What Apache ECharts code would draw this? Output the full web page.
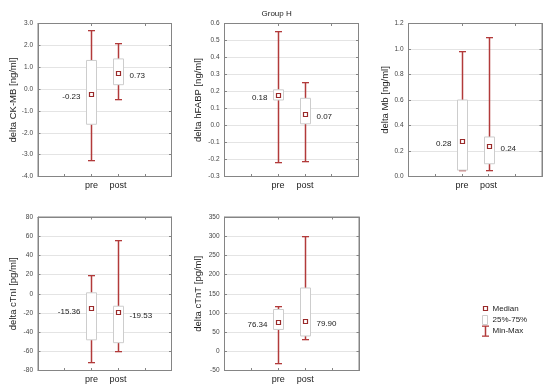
<!DOCTYPE html>
<html>
<head>
<meta charset="utf-8">
<script src="https://cdn.jsdelivr.net/npm/echarts@6/dist/echarts.min.js"></script>
<style>html,body{margin:0;padding:0;background:#fff}#c{width:550px;height:389px}</style>
</head>
<body>
<div id="c"></div>
<script>
// ---- data ----
const categories = ['pre', 'post'];
const panelNames = ['delta CK-MB [ng/ml]', 'delta hFABP [ng/ml]', 'delta Mb [ng/ml]', 'delta cTnI [pg/ml]', 'delta cTnT [pg/ml]'];
// each stat: [min, q25, median, q75, max]
const ckmbPre = [-3.29, -1.61, -0.23, 1.31, 2.67];
const ckmbPost = [-0.48, 0.20, 0.73, 1.38, 2.08];
const hfabpPre = [-0.22, 0.15, 0.18, 0.21, 0.55];
const hfabpPost = [-0.21, 0.01, 0.07, 0.16, 0.25];
const mbPre = [0.05, 0.05, 0.28, 0.60, 0.98];
const mbPost = [0.05, 0.10, 0.24, 0.31, 1.09];
const ctniPre = [-72, -48, -15.36, 1, 19];
const ctniPost = [-60, -51, -19.53, -13, 56];
const ctntPre = [-33, 57, 76.34, 109, 118];
const ctntPost = [31, 40, 79.90, 165, 300];
// y-axis ticks: [min, max, interval, decimals]
const yTicks1 = [-4, 3, 1, 1];
const yTicks2 = [-0.3, 0.6, 0.1, 1];
const yTicks3 = [0, 1.2, 0.2, 1];
const yTicks4 = [-80, 80, 20, 0];
const yTicks5 = [-50, 350, 50, 0];
const titleText = 'Group H';
const legendLabels = ['Median', '25%-75%', 'Min-Max'];

// ---- layout ----
const FONT = '"Liberation Sans", Arial, sans-serif';
const WHISK = '#b23a3a';
const MED = '#9a2a2a';
const BOXC = '#cdcdcd';
const FRAME = '#858585';
const panels = [
  {pre: ckmbPre, post: ckmbPost, y: yTicks1, grid: {left: 38, top: 23.5, width: 133.5, height: 153}, gap: 20},
  {pre: hfabpPre, post: hfabpPost, y: yTicks2, grid: {left: 224.5, top: 23.5, width: 134, height: 153}, gap: 21},
  {pre: mbPre, post: mbPost, y: yTicks3, grid: {left: 408.5, top: 23.5, width: 133.5, height: 153}, gap: 18.5},
  {pre: ctniPre, post: ctniPost, y: yTicks4, grid: {left: 38, top: 217, width: 133.5, height: 153.5}, gap: 20},
  {pre: ctntPre, post: ctntPost, y: yTicks5, grid: {left: 224.5, top: 217, width: 134.5, height: 153.5}, gap: 21}
];
const axisCats = ['', ''].concat(categories, ['', '']);

function vbar(x, y1, y2, color) {
  const t = Math.min(y1, y2);
  return {type: 'rect', shape: {x: x - 0.25, y: t, width: 1.5, height: Math.abs(y2 - y1)}, style: {fill: color}};
}
function hbar(x1, x2, y, color) {
  return {type: 'rect', shape: {x: x1, y: Math.round(y - 0.5), width: x2 - x1, height: 1.3}, style: {fill: color}};
}

function renderItem(params, api) {
  const x = api.value(0);
  const mn = api.value(1), q1 = api.value(2), md = api.value(3), q3 = api.value(4), mx = api.value(5);
  const side = api.value(6);
  const pMin = api.coord([x, mn]), pQ1 = api.coord([x, q1]), pMd = api.coord([x, md]);
  const pQ3 = api.coord([x, q3]), pMax = api.coord([x, mx]);
  const cx = Math.round(pMin[0]);
  const bw = 10, ms = 4;
  const children = [
    vbar(cx, pQ3[1], pMax[1], WHISK),
    vbar(cx, pQ1[1], pMin[1], WHISK),
    hbar(cx - 3, cx + 4, pMax[1], WHISK),
    hbar(cx - 3, cx + 4, pMin[1], WHISK),
    {type: 'rect', shape: {x: cx - bw / 2 + 0.5, y: pQ3[1], width: bw, height: pQ1[1] - pQ3[1]}, style: {fill: '#fff', stroke: BOXC, lineWidth: 1}},
    {type: 'rect', shape: {x: cx - ms / 2 + 0.5, y: Math.round(pMd[1]) - ms / 2 + 0.5, width: ms, height: ms}, style: {fill: '#fff', stroke: MED, lineWidth: 1.2}},
    {type: 'text', style: {text: md.toFixed(2), x: cx + 0.5 + side * 11, y: pMd[1] + 3,
      align: side < 0 ? 'right' : 'left', verticalAlign: 'middle',
      fontSize: 8, fontFamily: FONT, fill: '#222'}}
  ];
  return {type: 'group', children: children};
}

const grid = [], xAxis = [], yAxis = [], series = [];
panels.forEach((p, i) => {
  grid.push(Object.assign({show: true, borderColor: FRAME, borderWidth: 1, backgroundColor: '#fff'}, p.grid));
  const tick = {show: true, inside: true, length: 2.5, lineStyle: {color: FRAME}};
  xAxis.push({gridIndex: i, type: 'category', data: axisCats, boundaryGap: false,
    axisLine: {show: true, onZero: false, lineStyle: {color: FRAME}}, axisTick: tick,
    axisLabel: {interval: 0, fontSize: 9, margin: 5, color: '#222', fontFamily: FONT},
    splitLine: {show: false}});
  xAxis.push({gridIndex: i, type: 'category', position: 'top', data: axisCats, boundaryGap: false,
    axisLine: {show: true, onZero: false, lineStyle: {color: FRAME}}, axisTick: tick,
    axisLabel: {show: false}, splitLine: {show: false}});
  const [ymin, ymax, yint, dec] = p.y;
  yAxis.push({gridIndex: i, type: 'value', min: ymin, max: ymax, interval: yint,
    axisLine: {show: true, onZero: false, lineStyle: {color: FRAME}}, axisTick: tick,
    axisLabel: {fontSize: 6.5, margin: 5, color: '#444', fontFamily: FONT,
      formatter: v => Number(v).toFixed(dec)},
    splitLine: {show: true, lineStyle: {color: '#e4e4e4', width: 1}},
    name: panelNames[i], nameLocation: 'middle', nameRotate: 90, nameGap: p.gap,
    nameTextStyle: {fontSize: 9.5, color: '#222', fontFamily: FONT}});
  yAxis.push({gridIndex: i, type: 'value', position: 'right', min: ymin, max: ymax, interval: yint,
    axisLine: {show: true, onZero: false, lineStyle: {color: FRAME}}, axisTick: tick,
    axisLabel: {show: false}, splitLine: {show: false}});
  series.push({type: 'custom', xAxisIndex: 2 * i, yAxisIndex: 2 * i, renderItem: renderItem,
    clip: false, silent: true,
    data: [[2].concat(p.pre, [-1]), [3].concat(p.post, [1])],
    encode: {x: 0, y: [1, 2, 3, 4, 5]}});
});

const lx = 485, ly = 308.5;
const graphic = [
  {type: 'rect', shape: {x: lx - 1.5, y: ly - 2, width: 4, height: 4}, style: {fill: '#fff', stroke: MED, lineWidth: 1.2}},
  {type: 'text', style: {text: legendLabels[0], x: 492.5, y: ly, verticalAlign: 'middle', fontSize: 8, fontFamily: FONT, fill: '#222'}},
  {type: 'rect', shape: {x: lx - 2.5, y: 315.5, width: 5, height: 9}, style: {fill: '#fff', stroke: BOXC, lineWidth: 1}},
  {type: 'text', style: {text: legendLabels[1], x: 492.5, y: 319.5, verticalAlign: 'middle', fontSize: 8, fontFamily: FONT, fill: '#222'}},
  {type: 'rect', shape: {x: lx - 0.25, y: 326, width: 1.5, height: 10}, style: {fill: WHISK}},
  {type: 'rect', shape: {x: lx - 3, y: 325.5, width: 7, height: 1.3}, style: {fill: WHISK}},
  {type: 'rect', shape: {x: lx - 3, y: 335.5, width: 7, height: 1.3}, style: {fill: WHISK}},
  {type: 'text', style: {text: legendLabels[2], x: 492.5, y: 330.5, verticalAlign: 'middle', fontSize: 8, fontFamily: FONT, fill: '#222'}}
];

const chart = echarts.init(document.getElementById('c'), null, {renderer: 'canvas'});
chart.setOption({
  animation: false,
  backgroundColor: '#fff',
  title: {text: titleText, left: 256.5, top: 5, textStyle: {fontSize: 8, fontWeight: 'normal', color: '#222', fontFamily: FONT}},
  grid: grid, xAxis: xAxis, yAxis: yAxis, series: series, graphic: graphic
});
</script>
</body>
</html>
